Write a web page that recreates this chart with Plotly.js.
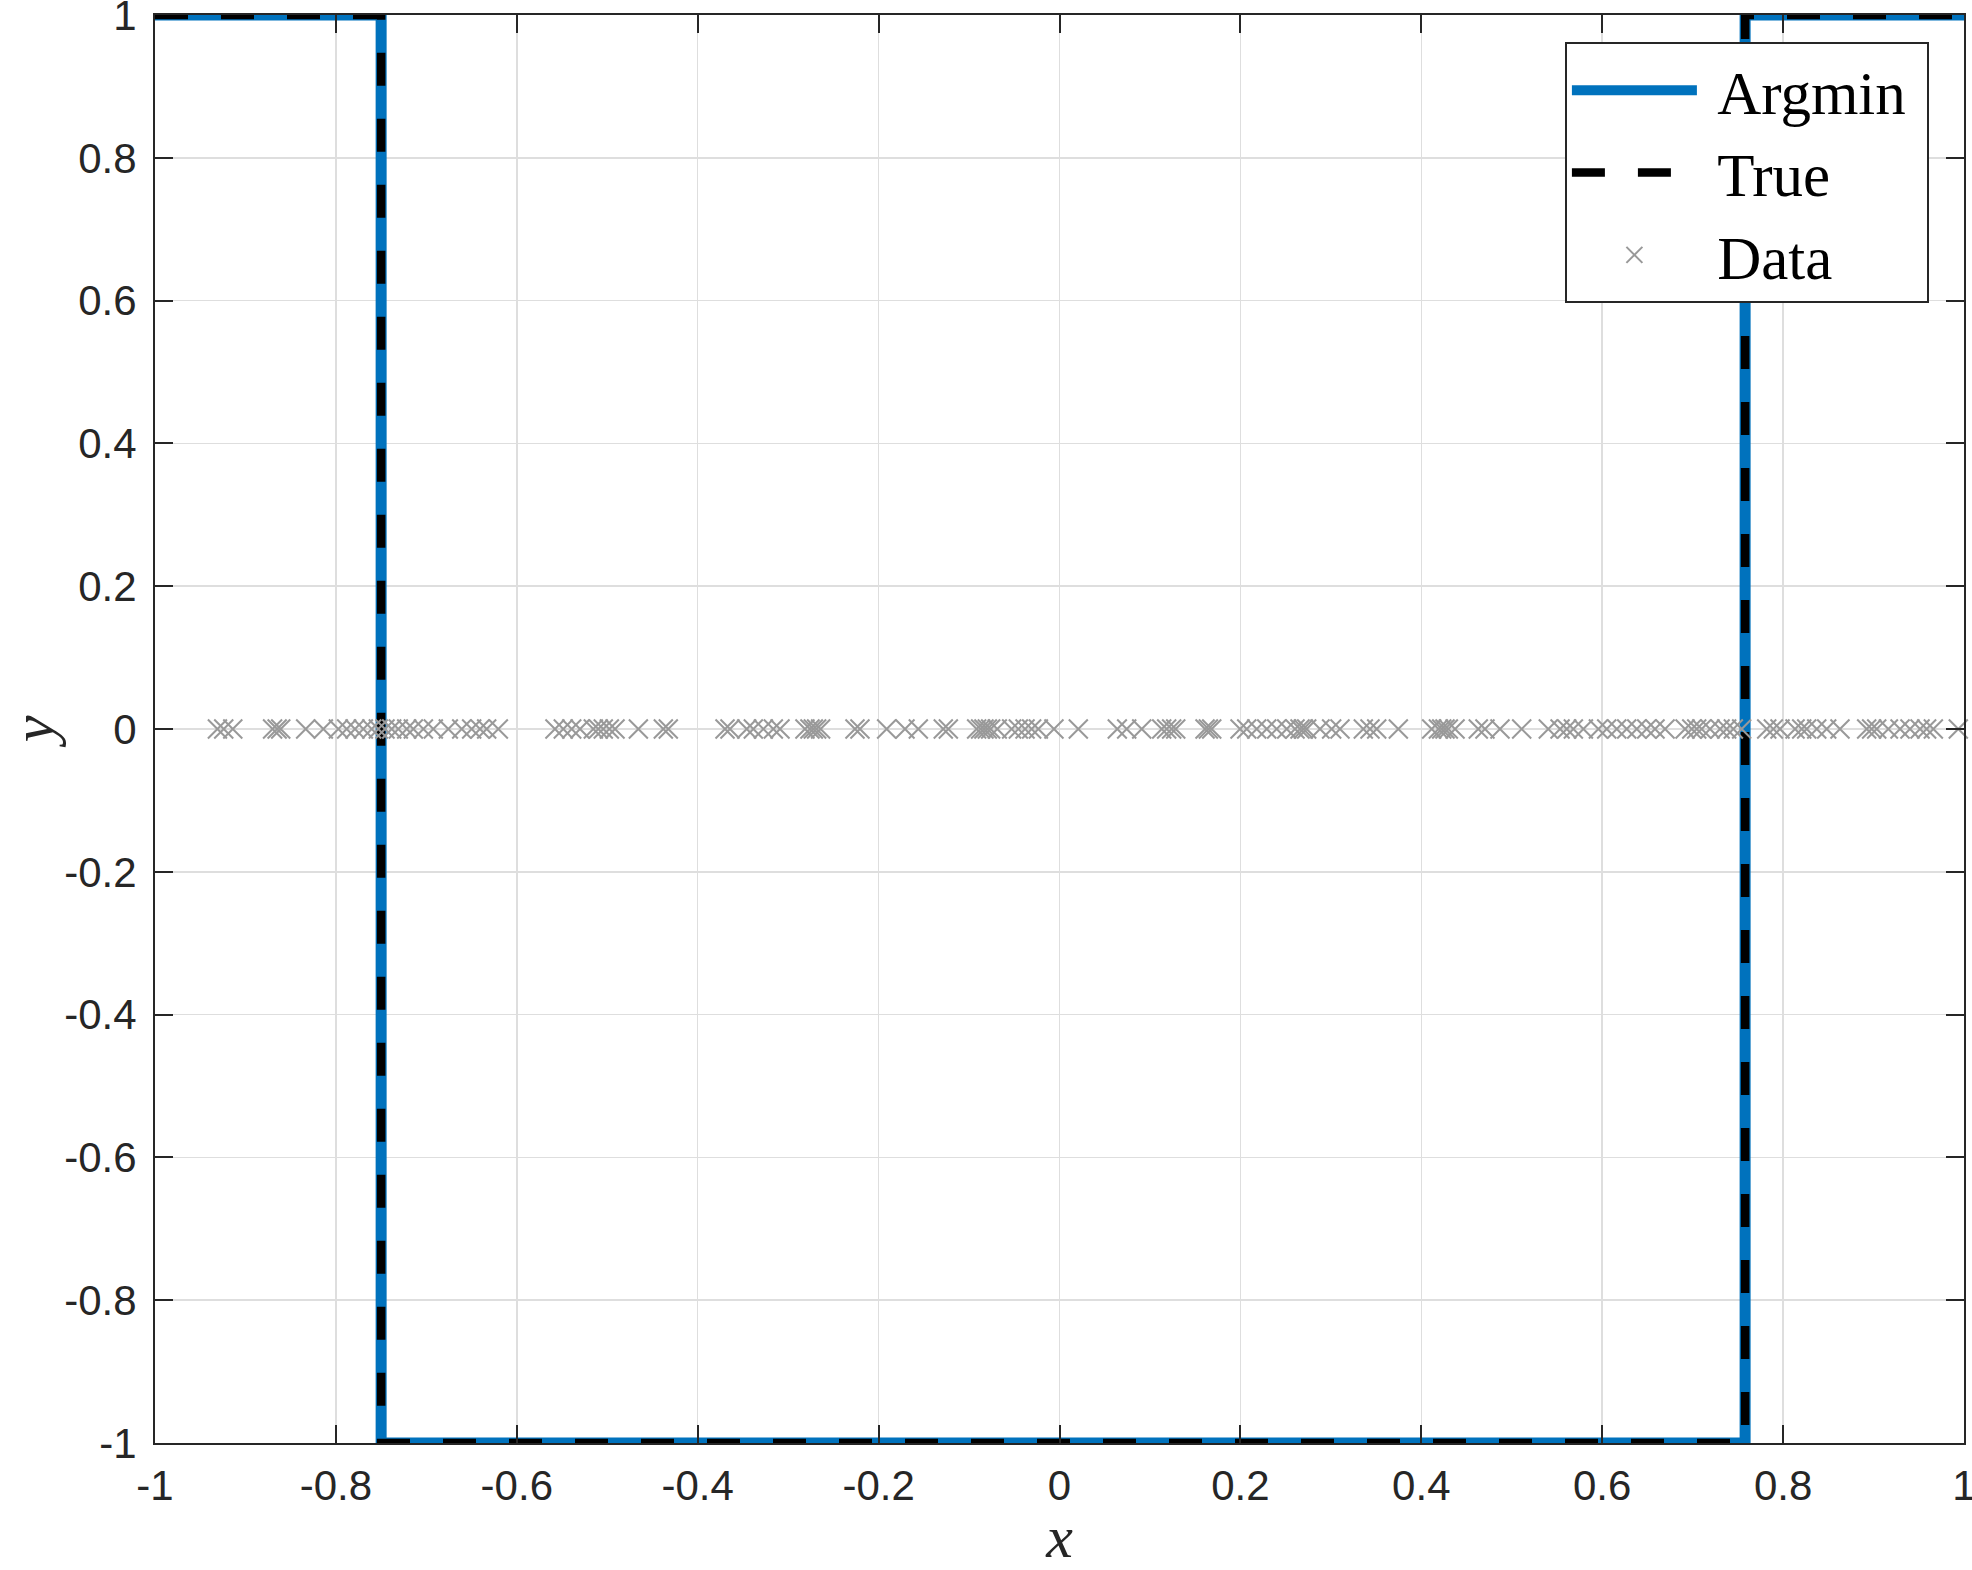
<!DOCTYPE html>
<html>
<head>
<meta charset="utf-8">
<script src="https://cdn.plot.ly/plotly-3.0.1.min.js"></script>
<style>html,body{margin:0;padding:0;background:#fff;}#chart{width:1972px;height:1570px;}</style>
</head>
<body>
<div id="chart"></div>
<script>
// Step functions (Argmin estimate and True function)
const argminX = [-1, -0.75, -0.75, 0.758, 0.758, 1];
const argminY = [1, 1, -1, -1, 1, 1];
const trueX = [-1, -0.75, -0.75, 0.758, 0.758, 1];
const trueY = [1, 1, -1, -1, 1, 1];

// Data sample locations (all observed at y = 0)
const dataX = [
  -0.931, -0.924, -0.914, -0.870, -0.865, -0.861,
  -0.8334, -0.8139, -0.7973, -0.7881, -0.7789, -0.7697, -0.7604, -0.7531, -0.7457,
  -0.7383, -0.7310, -0.7217, -0.7144, -0.7033, -0.6923, -0.6757, -0.6609, -0.6499,
  -0.6407, -0.6333, -0.6204,
  -0.5578, -0.5486, -0.5393, -0.5301, -0.5154, -0.5099, -0.5044, -0.4977, -0.4914,
  -0.4656, -0.4380, -0.4325,
  -0.3698, -0.3643, -0.3458, -0.3385, -0.3274, -0.3164, -0.3090,
  -0.2814, -0.2759, -0.2722, -0.2685, -0.2641, -0.2261, -0.2206,
  -0.1911, -0.1708, -0.1561, -0.1285, -0.1229,
  -0.0916, -0.0872, -0.0835, -0.0798, -0.0761, -0.0688, -0.0529, -0.0455, -0.0381,
  -0.0308, -0.0234, -0.0061, 0.0208,
  0.0639, 0.0743, 0.0909, 0.1130, 0.1185, 0.1240, 0.1285, 0.1609, 0.1646, 0.1683,
  0.1996, 0.2070, 0.2180, 0.2291,
  0.2401, 0.2512, 0.2604, 0.2659, 0.2696, 0.2733, 0.2880, 0.3009, 0.3101,
  0.3359, 0.3433, 0.3507, 0.3746,
  0.4115, 0.4189, 0.4226, 0.4262, 0.4299, 0.4373, 0.4630, 0.4704, 0.4870, 0.5110,
  0.5404, 0.5534, 0.5608, 0.5681, 0.5792, 0.5958, 0.6050, 0.6161, 0.6271,
  0.6382, 0.6492, 0.6584, 0.6695, 0.6916, 0.6990, 0.7045, 0.7100, 0.7192, 0.7303,
  0.7376, 0.7450, 0.7542,
  0.7819, 0.7892, 0.7966, 0.8132, 0.8206, 0.8261, 0.8372, 0.8482, 0.8629,
  0.8924, 0.8979, 0.9035, 0.9164, 0.9293, 0.9403, 0.9514, 0.9587, 0.9661, 0.9937
];
const dataY = dataX.map(() => 0);

// Tick labels
const xTickVals = [-1, -0.8, -0.6, -0.4, -0.2, 0, 0.2, 0.4, 0.6, 0.8, 1];
const xTickText = ["-1", "-0.8", "-0.6", "-0.4", "-0.2", "0", "0.2", "0.4", "0.6", "0.8", "1"];
const yTickVals = [-1, -0.8, -0.6, -0.4, -0.2, 0, 0.2, 0.4, 0.6, 0.8, 1];
const yTickText = ["-1", "-0.8", "-0.6", "-0.4", "-0.2", "0", "0.2", "0.4", "0.6", "0.8", "1"];

const seriesNames = ["Argmin", "True", "Data"];
const legendPad = "\u00A0";

const axisColor = "#262626";
const tickFont = {family: "Liberation Sans, Arial, sans-serif", size: 42, color: axisColor};
const serifFont = "Liberation Serif, Times New Roman, serif";

const traces = [
  {
    x: argminX, y: argminY, name: legendPad + seriesNames[0] + legendPad, type: "scatter", mode: "lines",
    line: {color: "#0072BD", width: 11}, cliponaxis: false
  },
  {
    x: trueX, y: trueY, name: legendPad + seriesNames[1], type: "scatter", mode: "lines",
    line: {color: "#000000", width: 8.5, dash: "33px,33px"}, cliponaxis: false
  },
  {
    x: dataX, y: dataY, name: legendPad + seriesNames[2], type: "scatter", mode: "markers",
    marker: {symbol: "x-thin-open", size: 19, color: "#999999", line: {color: "#999999", width: 2}},
    cliponaxis: false
  }
];

const axisCommon = {
  showline: true, linecolor: axisColor, linewidth: 2, mirror: "ticks",
  ticks: "inside", ticklen: 18, tickwidth: 2, tickcolor: axisColor,
  showgrid: true, gridcolor: "#dedede", gridwidth: 1.5,
  zeroline: false, tickfont: tickFont, tickmode: "array", automargin: false,
  ticklabeloverflow: "allow"
};

const layout = {
  width: 1972, height: 1570,
  margin: {l: 155, r: 8, t: 15, b: 127},
  paper_bgcolor: "#ffffff", plot_bgcolor: "#ffffff",
  showlegend: true,
  xaxis: Object.assign({}, axisCommon, {
    range: [-1, 1], tickvals: xTickVals, ticktext: xTickText, ticklabelstandoff: 5,
    title: {text: "x", font: {family: serifFont, size: 60, color: axisColor, style: "italic"}, standoff: 50}
  }),
  yaxis: Object.assign({}, axisCommon, {
    range: [-1, 1], tickvals: yTickVals, ticktext: yTickText, ticklabelstandoff: 8,
    title: {text: "y", font: {family: serifFont, size: 60, color: axisColor, style: "italic"}, standoff: 56}
  }),
  legend: {
    x: 0.9806, y: 0.981, xanchor: "right", yanchor: "top",
    bgcolor: "#ffffff", bordercolor: axisColor, borderwidth: 2,
    font: {family: serifFont, size: 61, color: "#000000"},
    itemwidth: 125, tracegroupgap: 0
  }
};

Plotly.newPlot("chart", traces, layout, {displayModeBar: false, staticPlot: true});
</script>
</body>
</html>
